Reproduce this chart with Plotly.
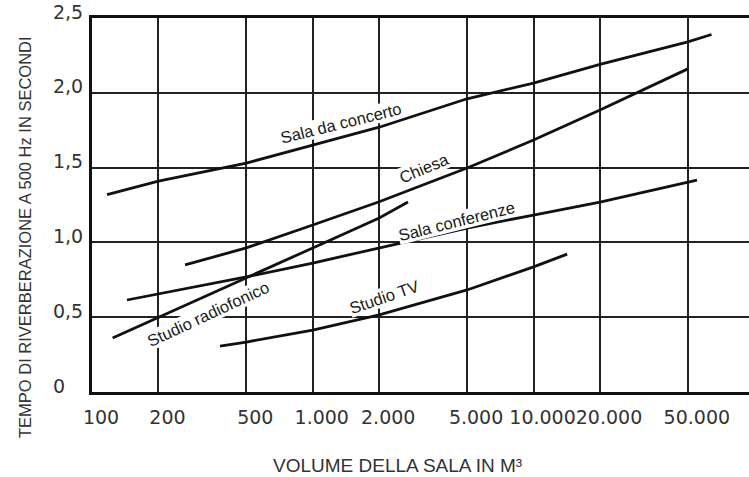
import math
import plotly.graph_objects as go

# ---- data ----
x_tickvals = [100, 200, 500, 1000, 2000, 5000, 10000, 20000, 50000]
x_ticktext = ["100", "200", "500", "1.000", "2.000", "5.000", "10.000", "20.000", "50.000"]
y_tickvals = [0, 0.5, 1.0, 1.5, 2.0, 2.5]
y_ticktext = ["0\u00a0\u00a0\u00a0", "0,5", "1,0", "1,5", "2,0", "2,5"]

concerto_v = [117, 200, 500, 2000, 5000, 10000, 20000, 50000, 64000]
concerto_t = [1.32, 1.41, 1.53, 1.77, 1.96, 2.065, 2.19, 2.34, 2.39]

chiesa_v = [264, 500, 1000, 2000, 5000, 10000, 20000, 50000]
chiesa_t = [0.85, 0.963, 1.116, 1.272, 1.497, 1.684, 1.885, 2.16]

conferenze_v = [144, 200, 500, 1000, 2000, 5000, 10000, 20000, 55000]
conferenze_t = [0.615, 0.655, 0.769, 0.862, 0.963, 1.096, 1.183, 1.27, 1.417]

radio_v = [124, 200, 500, 1000, 2000, 2700]
radio_t = [0.361, 0.50, 0.762, 0.963, 1.163, 1.27]

tv_v = [380, 500, 1000, 2000, 5000, 10000, 14200]
tv_t = [0.307, 0.334, 0.414, 0.515, 0.682, 0.836, 0.922]

labels = ["Sala da concerto", "Chiesa", "Sala conferenze", "Studio radiofonico", "Studio TV"]
label_x = [1340, 3190, 4500, 335, 2100]
label_y = [1.80, 1.497, 1.143, 0.523, 0.635]
label_angle = [-14, -23, -14, -25, -19]

series = [(concerto_v, concerto_t), (chiesa_v, chiesa_t), (conferenze_v, conferenze_t),
          (radio_v, radio_t), (tv_v, tv_t)]

W, H = 749, 477
ml, mr, mt, mb = 92, 0, 18, 85
pw, ph = W - ml - mr, H - mt - mb

fig = go.Figure()
for (v, t), name in zip(series, labels):
    fig.add_trace(go.Scatter(x=v, y=t, mode="lines", name=name,
                             line=dict(color="#111111", width=2.8), showlegend=False,
                             hoverinfo="skip"))

for txt, lx, ly, ang in zip(labels, label_x, label_y, label_angle):
    fig.add_annotation(x=math.log10(lx), y=ly, xref="x", yref="y", text=txt,
                       textangle=ang, showarrow=False, bgcolor="white", borderpad=0,
                       font=dict(family="Liberation Sans, Arial, sans-serif", size=16.5, color="#1a1a1a"))

# axis titles (positions given in pixels, converted to paper coordinates)
fig.add_annotation(x=(25 - ml) / pw, y=(H - 237 - mb) / ph, xref="paper", yref="paper",
                   xanchor="center", yanchor="middle",
                   text="TEMPO DI RIVERBERAZIONE A 500 Hz IN SECONDI",
                   showarrow=False, textangle=-90,
                   font=dict(family="Liberation Sans, Arial, sans-serif", size=16.5, color="#333333"))
fig.add_annotation(x=(397 - ml) / pw, y=(H - 465 - mb) / ph, xref="paper", yref="paper",
                   xanchor="center", yanchor="middle",
                   text="VOLUME DELLA SALA IN M³", showarrow=False,
                   font=dict(family="Liberation Sans, Arial, sans-serif", size=19, color="#333333"))

fig.update_layout(
    width=W, height=H,
    margin=dict(l=ml, r=mr, t=mt, b=mb, autoexpand=False),
    paper_bgcolor="white", plot_bgcolor="white",
    xaxis=dict(type="log", range=[2, 4.976], tickvals=x_tickvals, ticktext=x_ticktext,
               tickangle=0, automargin=False,
               showgrid=True, gridcolor="#222222", gridwidth=2,
               showline=True, linecolor="#111111", linewidth=3, mirror=True,
               ticks="", zeroline=False, ticklabelstandoff=6, ticklabelshift=9,
               tickfont=dict(family="DejaVu Sans, sans-serif", size=19, color="#333333")),
    yaxis=dict(range=[0, 2.5], tickvals=y_tickvals, ticktext=y_ticktext,
               automargin=False,
               showgrid=True, gridcolor="#222222", gridwidth=2,
               showline=True, linecolor="#111111", linewidth=3,
               ticks="", zeroline=False, ticklabelstandoff=2, ticklabelshift=-6,
               tickfont=dict(family="DejaVu Sans, sans-serif", size=19, color="#333333")),
)

fig.write_html("out.html", config={"displayModeBar": False},
               post_script="document.body.style.margin='0';document.body.style.overflow='hidden';")
